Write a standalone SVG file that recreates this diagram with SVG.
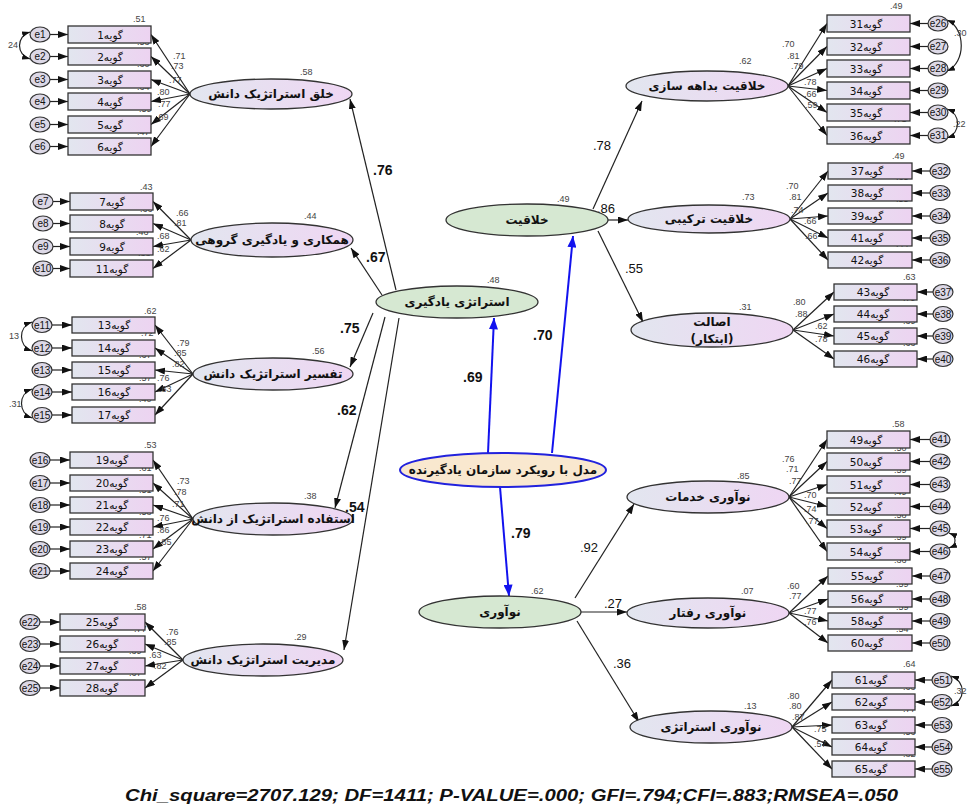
<svg xmlns="http://www.w3.org/2000/svg" width="969" height="806" viewBox="0 0 969 806">
<defs>
<linearGradient id="gb" x1="0" y1="0" x2="1" y2="0"><stop offset="0" stop-color="#e2e6ef"/><stop offset="1" stop-color="#edd3f1"/></linearGradient>
<linearGradient id="gl" x1="0" y1="0" x2="1" y2="0"><stop offset="0" stop-color="#e2e6ef"/><stop offset="1" stop-color="#efd6f3"/></linearGradient>
<marker id="ah" viewBox="0 0 10 7" refX="10" refY="3.5" markerWidth="10" markerHeight="7" markerUnits="userSpaceOnUse" orient="auto-start-reverse"><path d="M0,0 L10,3.5 L0,7 z" fill="#111"/></marker>
<marker id="sh" viewBox="0 0 10 7" refX="10" refY="3.5" markerWidth="8" markerHeight="6" markerUnits="userSpaceOnUse" orient="auto-start-reverse"><path d="M0,0 L10,3.5 L0,7 z" fill="#111"/></marker>
<marker id="bh" viewBox="0 0 10 8" refX="10" refY="4" markerWidth="12" markerHeight="9" markerUnits="userSpaceOnUse" orient="auto"><path d="M0,0 L10,4 L0,8 z" fill="#1212ee"/></marker>
</defs>
<style>
.box{fill:url(#gb);stroke:#333;stroke-width:1.3}
.lat{fill:url(#gl);stroke:#333;stroke-width:1.3}
.grn{fill:#d6e8d2;stroke:#333;stroke-width:1.3}
.mod{fill:#f9e8cf;stroke:#2222dd;stroke-width:2}
.err{fill:#dcd8e6;stroke:#333;stroke-width:1.2}
.ln{stroke:#222;stroke-width:1.2;fill:none;marker-end:url(#ah)}
.cv{stroke:#222;stroke-width:1.2;fill:none;marker-end:url(#sh);marker-start:url(#sh)}
.bl{stroke:#1212ee;stroke-width:2;fill:none;marker-end:url(#bh)}
.fa{font-family:"DejaVu Sans",sans-serif;fill:#111;text-anchor:middle}
.bt{font-size:10.5px}
.lt{font-size:12px;font-weight:bold}
.et{font-family:"Liberation Sans",Arial,sans-serif;font-size:10px;fill:#111;text-anchor:middle}
.n{font-family:"Liberation Sans",Arial,sans-serif;font-size:9px;fill:#444}
.sp{font-family:"Liberation Sans",Arial,sans-serif;font-size:13px;fill:#111}
.sb{font-family:"Liberation Sans",Arial,sans-serif;font-size:14px;font-weight:bold;fill:#111}
</style>
<rect width="969" height="806" fill="#fff"/>

<g id="connectors">
<line class="ln" x1="190" y1="94" x2="151" y2="34.5"/><line class="ln" x1="190" y1="94" x2="151" y2="56.5"/><line class="ln" x1="190" y1="94" x2="151" y2="79.5"/><line class="ln" x1="190" y1="94" x2="151" y2="101.5"/><line class="ln" x1="190" y1="94" x2="151" y2="124.5"/><line class="ln" x1="190" y1="94" x2="151" y2="146.5"/>
<line class="ln" x1="50" y1="34.5" x2="68" y2="34.5"/><line class="ln" x1="50" y1="56.5" x2="68" y2="56.5"/><line class="ln" x1="50" y1="79.5" x2="68" y2="79.5"/><line class="ln" x1="50" y1="101.5" x2="68" y2="101.5"/><line class="ln" x1="50" y1="124.5" x2="68" y2="124.5"/><line class="ln" x1="50" y1="146.5" x2="68" y2="146.5"/>
<path class="cv" d="M30,32 C16,36 16,55 30,59"/>
<line class="ln" x1="191" y1="240" x2="153" y2="201.5"/><line class="ln" x1="191" y1="240" x2="153" y2="223.5"/><line class="ln" x1="191" y1="240" x2="153" y2="246.5"/><line class="ln" x1="191" y1="240" x2="153" y2="268.5"/>
<line class="ln" x1="53" y1="201.5" x2="70" y2="201.5"/><line class="ln" x1="53" y1="223.5" x2="70" y2="223.5"/><line class="ln" x1="53" y1="246.5" x2="70" y2="246.5"/><line class="ln" x1="53" y1="268.5" x2="70" y2="268.5"/>
<line class="ln" x1="193" y1="374" x2="155" y2="325"/><line class="ln" x1="193" y1="374" x2="155" y2="348"/><line class="ln" x1="193" y1="374" x2="155" y2="370"/><line class="ln" x1="193" y1="374" x2="155" y2="392"/><line class="ln" x1="193" y1="374" x2="155" y2="415"/>
<line class="ln" x1="52" y1="325" x2="72" y2="325"/><line class="ln" x1="52" y1="348" x2="72" y2="348"/><line class="ln" x1="52" y1="370" x2="72" y2="370"/><line class="ln" x1="52" y1="392" x2="72" y2="392"/><line class="ln" x1="52" y1="415" x2="72" y2="415"/>
<path class="cv" d="M32,322 C18,327 18,346 32,351"/>
<path class="cv" d="M32,389 C18,394 18,413 32,418"/>
<line class="ln" x1="193" y1="519" x2="153" y2="460"/><line class="ln" x1="193" y1="519" x2="153" y2="483"/><line class="ln" x1="193" y1="519" x2="153" y2="505"/><line class="ln" x1="193" y1="519" x2="153" y2="527"/><line class="ln" x1="193" y1="519" x2="153" y2="549"/><line class="ln" x1="193" y1="519" x2="153" y2="571"/>
<line class="ln" x1="50" y1="460" x2="70" y2="460"/><line class="ln" x1="50" y1="483" x2="70" y2="483"/><line class="ln" x1="50" y1="505" x2="70" y2="505"/><line class="ln" x1="50" y1="527" x2="70" y2="527"/><line class="ln" x1="50" y1="549" x2="70" y2="549"/><line class="ln" x1="50" y1="571" x2="70" y2="571"/>
<line class="ln" x1="183" y1="660" x2="145" y2="622"/><line class="ln" x1="183" y1="660" x2="145" y2="644"/><line class="ln" x1="183" y1="660" x2="145" y2="666"/><line class="ln" x1="183" y1="660" x2="145" y2="688"/>
<line class="ln" x1="40" y1="622" x2="60" y2="622"/><line class="ln" x1="40" y1="644" x2="60" y2="644"/><line class="ln" x1="40" y1="666" x2="60" y2="666"/><line class="ln" x1="40" y1="688" x2="60" y2="688"/>
<line class="ln" x1="788" y1="86" x2="827" y2="23.5"/><line class="ln" x1="788" y1="86" x2="827" y2="46.5"/><line class="ln" x1="788" y1="86" x2="827" y2="68.5"/><line class="ln" x1="788" y1="86" x2="827" y2="90.5"/><line class="ln" x1="788" y1="86" x2="827" y2="112.5"/><line class="ln" x1="788" y1="86" x2="827" y2="135.5"/>
<line class="ln" x1="928" y1="23.5" x2="910" y2="23.5"/><line class="ln" x1="928" y1="46.5" x2="910" y2="46.5"/><line class="ln" x1="928" y1="68.5" x2="910" y2="68.5"/><line class="ln" x1="928" y1="90.5" x2="910" y2="90.5"/><line class="ln" x1="928" y1="112.5" x2="910" y2="112.5"/><line class="ln" x1="928" y1="135.5" x2="910" y2="135.5"/>
<path class="cv" d="M947,20 C966,28 966,63 947,71"/>
<path class="cv" d="M947,109 C961,114 961,133 947,138"/>
<line class="ln" x1="790" y1="219" x2="828" y2="171"/><line class="ln" x1="790" y1="219" x2="828" y2="193"/><line class="ln" x1="790" y1="219" x2="828" y2="216"/><line class="ln" x1="790" y1="219" x2="828" y2="238"/><line class="ln" x1="790" y1="219" x2="828" y2="260"/>
<line class="ln" x1="930" y1="171" x2="912" y2="171"/><line class="ln" x1="930" y1="193" x2="912" y2="193"/><line class="ln" x1="930" y1="216" x2="912" y2="216"/><line class="ln" x1="930" y1="238" x2="912" y2="238"/><line class="ln" x1="930" y1="260" x2="912" y2="260"/>
<line class="ln" x1="793" y1="330" x2="834" y2="292"/><line class="ln" x1="793" y1="330" x2="834" y2="314"/><line class="ln" x1="793" y1="330" x2="834" y2="336"/><line class="ln" x1="793" y1="330" x2="834" y2="359"/>
<line class="ln" x1="933" y1="292" x2="917" y2="292"/><line class="ln" x1="933" y1="314" x2="917" y2="314"/><line class="ln" x1="933" y1="336" x2="917" y2="336"/><line class="ln" x1="933" y1="359" x2="917" y2="359"/>
<line class="ln" x1="789" y1="497" x2="827" y2="439.5"/><line class="ln" x1="789" y1="497" x2="827" y2="461.5"/><line class="ln" x1="789" y1="497" x2="827" y2="484.5"/><line class="ln" x1="789" y1="497" x2="827" y2="506.5"/><line class="ln" x1="789" y1="497" x2="827" y2="528.5"/><line class="ln" x1="789" y1="497" x2="827" y2="551.5"/>
<line class="ln" x1="930" y1="439.5" x2="910" y2="439.5"/><line class="ln" x1="930" y1="461.5" x2="910" y2="461.5"/><line class="ln" x1="930" y1="484.5" x2="910" y2="484.5"/><line class="ln" x1="930" y1="506.5" x2="910" y2="506.5"/><line class="ln" x1="930" y1="528.5" x2="910" y2="528.5"/><line class="ln" x1="930" y1="551.5" x2="910" y2="551.5"/>
<path class="cv" d="M949,533 C957,536 957,545 949,548"/>
<line class="ln" x1="789" y1="613" x2="828" y2="576"/><line class="ln" x1="789" y1="613" x2="828" y2="599"/><line class="ln" x1="789" y1="613" x2="828" y2="621"/><line class="ln" x1="789" y1="613" x2="828" y2="643"/>
<line class="ln" x1="930" y1="576" x2="912" y2="576"/><line class="ln" x1="930" y1="599" x2="912" y2="599"/><line class="ln" x1="930" y1="621" x2="912" y2="621"/><line class="ln" x1="930" y1="643" x2="912" y2="643"/>
<line class="ln" x1="792" y1="727" x2="832" y2="680"/><line class="ln" x1="792" y1="727" x2="832" y2="702"/><line class="ln" x1="792" y1="727" x2="832" y2="725"/><line class="ln" x1="792" y1="727" x2="832" y2="747"/><line class="ln" x1="792" y1="727" x2="832" y2="769"/>
<line class="ln" x1="932" y1="680" x2="915" y2="680"/><line class="ln" x1="932" y1="702" x2="915" y2="702"/><line class="ln" x1="932" y1="725" x2="915" y2="725"/><line class="ln" x1="932" y1="747" x2="915" y2="747"/><line class="ln" x1="932" y1="769" x2="915" y2="769"/>
<path class="cv" d="M951,676 C966,681 966,701 951,706"/>
<line class="ln" x1="396" y1="290" x2="350" y2="99"/>
<line class="ln" x1="382" y1="295" x2="351" y2="248"/>
<line class="ln" x1="373" y1="313" x2="350" y2="367"/>
<line class="ln" x1="385" y1="317" x2="335" y2="508"/>
<line class="ln" x1="399" y1="318" x2="344" y2="650"/>
<line class="ln" x1="593" y1="209" x2="642" y2="101"/>
<line class="ln" x1="608" y1="220" x2="628" y2="220"/>
<line class="ln" x1="598" y1="231" x2="643" y2="322"/>
<line class="ln" x1="575" y1="598" x2="634" y2="504"/>
<line class="ln" x1="581" y1="612" x2="627" y2="612"/>
<line class="ln" x1="577" y1="621" x2="639" y2="722"/>
<line class="bl" x1="488" y1="453" x2="494" y2="318"/>
<line class="bl" x1="552" y1="453" x2="573" y2="236"/>
<line class="bl" x1="500" y1="487" x2="509" y2="596"/>
</g>

<g id="path-labels">
<text class="sb" x="373" y="175">.76</text>
<text class="sb" x="366" y="262">.67</text>
<text class="sb" x="340" y="333">.75</text>
<text class="sb" x="337" y="415">.62</text>
<text class="sb" x="345" y="512">.54</text>
<text class="sb" x="463" y="382">.69</text>
<text class="sb" x="533" y="340">.70</text>
<text class="sb" x="511" y="538">.79</text>
<text class="sp" x="593" y="150">.78</text>
<text class="sp" x="597" y="213">.86</text>
<text class="sp" x="625" y="273">.55</text>
<text class="sp" x="580" y="552">.92</text>
<text class="sp" x="604" y="608">.27</text>
<text class="sp" x="613" y="668">.36</text>
</g>

<g id="loading-labels">
<text class="n" x="133" y="22">.51</text><text class="n" x="137" y="45">.53</text><text class="n" x="137" y="67">.60</text><text class="n" x="137" y="90">.64</text><text class="n" x="139" y="112">.59</text><text class="n" x="137" y="135">.47</text>
<text class="n" x="173" y="59">.71</text><text class="n" x="171" y="69">.73</text><text class="n" x="169" y="83">.77</text><text class="n" x="157" y="95">.80</text><text class="n" x="158" y="107">.77</text><text class="n" x="156" y="120">.69</text>
<text class="n" x="140" y="190">.43</text><text class="n" x="140" y="212">.66</text><text class="n" x="136" y="235">.46</text><text class="n" x="138" y="256">.38</text>
<text class="n" x="176" y="216">.66</text><text class="n" x="174" y="226">.81</text><text class="n" x="157" y="239">.68</text><text class="n" x="157" y="252">.62</text>
<text class="n" x="144" y="314">.62</text><text class="n" x="141" y="336">.72</text><text class="n" x="139" y="358">.67</text><text class="n" x="139" y="381">.57</text><text class="n" x="139" y="402">.40</text>
<text class="n" x="177" y="346">.79</text><text class="n" x="174" y="356">.85</text><text class="n" x="172" y="367">.82</text><text class="n" x="157" y="381">.76</text><text class="n" x="159" y="392">.63</text>
<text class="n" x="144" y="448">.53</text><text class="n" x="139" y="471">.61</text><text class="n" x="139" y="493">.51</text><text class="n" x="139" y="515">.58</text><text class="n" x="139" y="538">.71</text><text class="n" x="139" y="560">.57</text>
<text class="n" x="177" y="484">.73</text><text class="n" x="174" y="495">.78</text><text class="n" x="172" y="507">.71</text><text class="n" x="157" y="521">.76</text><text class="n" x="157" y="533">.86</text><text class="n" x="159" y="545">.85</text>
<text class="n" x="134" y="610">.58</text><text class="n" x="134" y="632">.77</text><text class="n" x="129" y="654">.39</text><text class="n" x="129" y="676">.67</text>
<text class="n" x="166" y="635">.76</text><text class="n" x="164" y="645">.85</text><text class="n" x="149" y="658">.63</text><text class="n" x="154" y="669">.82</text>
<text class="n" x="890" y="9">.49</text><text class="n" x="894" y="32">.65</text><text class="n" x="894" y="55">.62</text><text class="n" x="894" y="77">.61</text><text class="n" x="894" y="99">.44</text><text class="n" x="894" y="122">.71</text><text class="n" x="892" y="159">.49</text>
<text class="n" x="782" y="47">.70</text><text class="n" x="787" y="59">.81</text><text class="n" x="791" y="69">.79</text><text class="n" x="804" y="85">.78</text><text class="n" x="804" y="97">.66</text><text class="n" x="805" y="108">.59</text>
<text class="n" x="896" y="180">.65</text><text class="n" x="896" y="202">.55</text><text class="n" x="896" y="224">.44</text><text class="n" x="896" y="247">.44</text>
<text class="n" x="786" y="189">.70</text><text class="n" x="789" y="200">.81</text><text class="n" x="791" y="213">.74</text><text class="n" x="804" y="224">.66</text><text class="n" x="805" y="239">.66</text>
<text class="n" x="903" y="280">.63</text><text class="n" x="903" y="301">.79</text><text class="n" x="903" y="324">.39</text><text class="n" x="903" y="346">.63</text>
<text class="n" x="793" y="305">.80</text><text class="n" x="795" y="317">.88</text><text class="n" x="815" y="329">.62</text><text class="n" x="815" y="342">.78</text>
<text class="n" x="892" y="427">.58</text><text class="n" x="894" y="451">.50</text><text class="n" x="894" y="473">.59</text><text class="n" x="894" y="495">.49</text><text class="n" x="894" y="518">.58</text><text class="n" x="894" y="540">.59</text><text class="n" x="894" y="563">.36</text>
<text class="n" x="782" y="462">.76</text><text class="n" x="786" y="472">.71</text><text class="n" x="789" y="484">.77</text><text class="n" x="804" y="498">.70</text><text class="n" x="804" y="512">.74</text><text class="n" x="806" y="524">.77</text>
<text class="n" x="896" y="587">.59</text><text class="n" x="896" y="610">.59</text><text class="n" x="896" y="632">.54</text>
<text class="n" x="787" y="589">.60</text><text class="n" x="789" y="599">.77</text><text class="n" x="804" y="614">.77</text><text class="n" x="804" y="625">.76</text>
<text class="n" x="903" y="667">.64</text><text class="n" x="903" y="690">.63</text><text class="n" x="903" y="712">.77</text><text class="n" x="903" y="735">.56</text><text class="n" x="903" y="757">.82</text>
<text class="n" x="787" y="699">.80</text><text class="n" x="789" y="709">.80</text><text class="n" x="792" y="720">.87</text><text class="n" x="814" y="732">.75</text><text class="n" x="814" y="747">.57</text>
<text class="n" x="8" y="48">24</text><text class="n" x="9" y="339">13</text><text class="n" x="9" y="407">.31</text>
<text class="n" x="954" y="36">.30</text><text class="n" x="953" y="127">.22</text><text class="n" x="954" y="694">.32</text>
<text class="n" x="300" y="75">.58</text><text class="n" x="304" y="219">.44</text><text class="n" x="312" y="354">.56</text><text class="n" x="304" y="499">.38</text><text class="n" x="294" y="640">.29</text>
<text class="n" x="739" y="64">.62</text><text class="n" x="742" y="200">.73</text><text class="n" x="739" y="310">.31</text><text class="n" x="737" y="479">.85</text><text class="n" x="741" y="594">.07</text><text class="n" x="744" y="709">.13</text>
<text class="n" x="557" y="202">.49</text><text class="n" x="487" y="283">.48</text><text class="n" x="531" y="594">.62</text>
</g>

<g id="n-khallaqiyat"><ellipse class="grn" cx="527" cy="220" rx="81" ry="16"/><text class="fa lt" x="527" y="224" direction="rtl">خلاقیت</text></g>
<g id="n-strategy-learning"><ellipse class="grn" cx="457" cy="302" rx="81" ry="16"/><text class="fa lt" x="457" y="306" direction="rtl">استراتژی یادگیری</text></g>
<g id="n-model"><ellipse class="mod" cx="503" cy="470" rx="103" ry="17"/><text class="fa lt" x="503" y="474" direction="rtl">مدل با رویکرد سازمان یادگیرنده</text></g>
<g id="n-noavari"><ellipse class="grn" cx="500" cy="612" rx="81" ry="16"/><text class="fa lt" x="500" y="616" direction="rtl">نوآوری</text></g>

<g id="L1"><ellipse class="lat" cx="271" cy="94" rx="81" ry="15"/><text class="fa lt" x="271" y="98" direction="rtl">خلق استراتژیک دانش</text></g>
<g id="L2"><ellipse class="lat" cx="272" cy="240" rx="81" ry="17"/><text class="fa lt" x="272" y="244" direction="rtl">همکاری و یادگیری گروهی</text></g>
<g id="L3"><ellipse class="lat" cx="273" cy="374" rx="80" ry="16"/><text class="fa lt" x="273" y="378" direction="rtl">تفسیر استراتژیک دانش</text></g>
<g id="L4"><ellipse class="lat" cx="273" cy="519" rx="80" ry="16"/><text class="fa lt" x="273" y="523" direction="rtl">استفاده استراتژیک از دانش</text></g>
<g id="L5"><ellipse class="lat" cx="263" cy="660" rx="80" ry="16"/><text class="fa lt" x="263" y="664" direction="rtl">مدیریت استراتژیک دانش</text></g>

<g id="R1"><ellipse class="lat" cx="707" cy="86" rx="81" ry="15"/><text class="fa lt" x="707" y="90" direction="rtl">خلاقیت بداهه سازی</text></g>
<g id="R2"><ellipse class="lat" cx="709" cy="219" rx="81" ry="14"/><text class="fa lt" x="709" y="223" direction="rtl">خلاقیت ترکیبی</text></g>
<g id="R3"><ellipse class="lat" cx="712" cy="330" rx="81" ry="17"/><text class="fa lt" x="712" y="326" direction="rtl">اصالت</text><text class="fa lt" x="712" y="343" direction="rtl">(ابتکار)</text></g>
<g id="R4"><ellipse class="lat" cx="708" cy="497" rx="81" ry="16"/><text class="fa lt" x="708" y="501" direction="rtl">نوآوری خدمات</text></g>
<g id="R5"><ellipse class="lat" cx="708" cy="613" rx="81" ry="15"/><text class="fa lt" x="708" y="617" direction="rtl">نوآوری رفتار</text></g>
<g id="R6"><ellipse class="lat" cx="711" cy="727" rx="81" ry="16"/><text class="fa lt" x="711" y="731" direction="rtl">نوآوری استراتژی</text></g>

<g id="i1"><rect class="box" x="68" y="26" width="83" height="17"/><text class="fa bt" x="110" y="38.5" direction="rtl">گویه1</text></g>
<g id="i2"><rect class="box" x="68" y="48" width="83" height="17"/><text class="fa bt" x="110" y="60.5" direction="rtl">گویه2</text></g>
<g id="i3"><rect class="box" x="68" y="71" width="83" height="17"/><text class="fa bt" x="110" y="83.5" direction="rtl">گویه3</text></g>
<g id="i4"><rect class="box" x="68" y="93" width="83" height="17"/><text class="fa bt" x="110" y="105.5" direction="rtl">گویه4</text></g>
<g id="i5"><rect class="box" x="68" y="116" width="83" height="17"/><text class="fa bt" x="110" y="128.5" direction="rtl">گویه5</text></g>
<g id="i6"><rect class="box" x="68" y="138" width="83" height="17"/><text class="fa bt" x="110" y="150.5" direction="rtl">گویه6</text></g>
<g id="i7"><rect class="box" x="70" y="193" width="83" height="17"/><text class="fa bt" x="112" y="205.5" direction="rtl">گویه7</text></g>
<g id="i8"><rect class="box" x="70" y="215" width="83" height="17"/><text class="fa bt" x="112" y="227.5" direction="rtl">گویه8</text></g>
<g id="i9"><rect class="box" x="70" y="238" width="83" height="17"/><text class="fa bt" x="112" y="250.5" direction="rtl">گویه9</text></g>
<g id="i11"><rect class="box" x="70" y="260" width="83" height="17"/><text class="fa bt" x="112" y="272.5" direction="rtl">گویه11</text></g>
<g id="i13"><rect class="box" x="72" y="317" width="83" height="16"/><text class="fa bt" x="114" y="329" direction="rtl">گویه13</text></g>
<g id="i14"><rect class="box" x="72" y="340" width="83" height="16"/><text class="fa bt" x="114" y="352" direction="rtl">گویه14</text></g>
<g id="i15"><rect class="box" x="72" y="362" width="83" height="16"/><text class="fa bt" x="114" y="374" direction="rtl">گویه15</text></g>
<g id="i16"><rect class="box" x="72" y="384" width="83" height="16"/><text class="fa bt" x="114" y="396" direction="rtl">گویه16</text></g>
<g id="i17"><rect class="box" x="72" y="407" width="83" height="16"/><text class="fa bt" x="114" y="419" direction="rtl">گویه17</text></g>
<g id="i19"><rect class="box" x="70" y="452" width="83" height="16"/><text class="fa bt" x="112" y="464" direction="rtl">گویه19</text></g>
<g id="i20"><rect class="box" x="70" y="475" width="83" height="16"/><text class="fa bt" x="112" y="487" direction="rtl">گویه20</text></g>
<g id="i21"><rect class="box" x="70" y="497" width="83" height="16"/><text class="fa bt" x="112" y="509" direction="rtl">گویه21</text></g>
<g id="i22"><rect class="box" x="70" y="519" width="83" height="16"/><text class="fa bt" x="112" y="531" direction="rtl">گویه22</text></g>
<g id="i23"><rect class="box" x="70" y="541" width="83" height="16"/><text class="fa bt" x="112" y="553" direction="rtl">گویه23</text></g>
<g id="i24"><rect class="box" x="70" y="563" width="83" height="16"/><text class="fa bt" x="112" y="575" direction="rtl">گویه24</text></g>
<g id="i25"><rect class="box" x="60" y="614" width="85" height="16"/><text class="fa bt" x="102" y="626" direction="rtl">گویه25</text></g>
<g id="i26"><rect class="box" x="60" y="636" width="85" height="16"/><text class="fa bt" x="102" y="648" direction="rtl">گویه26</text></g>
<g id="i27"><rect class="box" x="60" y="658" width="85" height="16"/><text class="fa bt" x="102" y="670" direction="rtl">گویه27</text></g>
<g id="i28"><rect class="box" x="60" y="680" width="85" height="16"/><text class="fa bt" x="102" y="692" direction="rtl">گویه28</text></g>

<g id="i31"><rect class="box" x="827" y="15" width="83" height="17"/><text class="fa bt" x="866" y="27.5" direction="rtl">گویه31</text></g>
<g id="i32"><rect class="box" x="827" y="38" width="83" height="17"/><text class="fa bt" x="866" y="50.5" direction="rtl">گویه32</text></g>
<g id="i33"><rect class="box" x="827" y="60" width="83" height="17"/><text class="fa bt" x="866" y="72.5" direction="rtl">گویه33</text></g>
<g id="i34"><rect class="box" x="827" y="82" width="83" height="17"/><text class="fa bt" x="866" y="94.5" direction="rtl">گویه34</text></g>
<g id="i35"><rect class="box" x="827" y="104" width="83" height="17"/><text class="fa bt" x="866" y="116.5" direction="rtl">گویه35</text></g>
<g id="i36"><rect class="box" x="827" y="127" width="83" height="17"/><text class="fa bt" x="866" y="139.5" direction="rtl">گویه36</text></g>
<g id="i37"><rect class="box" x="828" y="163" width="84" height="16"/><text class="fa bt" x="867" y="175" direction="rtl">گویه37</text></g>
<g id="i38"><rect class="box" x="828" y="185" width="84" height="16"/><text class="fa bt" x="867" y="197" direction="rtl">گویه38</text></g>
<g id="i39"><rect class="box" x="828" y="208" width="84" height="16"/><text class="fa bt" x="867" y="220" direction="rtl">گویه39</text></g>
<g id="i41"><rect class="box" x="828" y="230" width="84" height="16"/><text class="fa bt" x="867" y="242" direction="rtl">گویه41</text></g>
<g id="i42"><rect class="box" x="828" y="252" width="84" height="16"/><text class="fa bt" x="867" y="264" direction="rtl">گویه42</text></g>
<g id="i43"><rect class="box" x="834" y="284" width="83" height="16"/><text class="fa bt" x="873" y="296" direction="rtl">گویه43</text></g>
<g id="i44"><rect class="box" x="834" y="306" width="83" height="16"/><text class="fa bt" x="873" y="318" direction="rtl">گویه44</text></g>
<g id="i45"><rect class="box" x="834" y="328" width="83" height="16"/><text class="fa bt" x="873" y="340" direction="rtl">گویه45</text></g>
<g id="i46"><rect class="box" x="834" y="351" width="83" height="16"/><text class="fa bt" x="873" y="363" direction="rtl">گویه46</text></g>
<g id="i49"><rect class="box" x="827" y="431" width="83" height="17"/><text class="fa bt" x="866" y="443.5" direction="rtl">گویه49</text></g>
<g id="i50"><rect class="box" x="827" y="453" width="83" height="17"/><text class="fa bt" x="866" y="465.5" direction="rtl">گویه50</text></g>
<g id="i51"><rect class="box" x="827" y="476" width="83" height="17"/><text class="fa bt" x="866" y="488.5" direction="rtl">گویه51</text></g>
<g id="i52"><rect class="box" x="827" y="498" width="83" height="17"/><text class="fa bt" x="866" y="510.5" direction="rtl">گویه52</text></g>
<g id="i53"><rect class="box" x="827" y="520" width="83" height="17"/><text class="fa bt" x="866" y="532.5" direction="rtl">گویه53</text></g>
<g id="i54"><rect class="box" x="827" y="543" width="83" height="17"/><text class="fa bt" x="866" y="555.5" direction="rtl">گویه54</text></g>
<g id="i55"><rect class="box" x="828" y="568" width="84" height="16"/><text class="fa bt" x="867" y="580" direction="rtl">گویه55</text></g>
<g id="i56"><rect class="box" x="828" y="591" width="84" height="16"/><text class="fa bt" x="867" y="603" direction="rtl">گویه56</text></g>
<g id="i58"><rect class="box" x="828" y="613" width="84" height="16"/><text class="fa bt" x="867" y="625" direction="rtl">گویه58</text></g>
<g id="i60"><rect class="box" x="828" y="635" width="84" height="16"/><text class="fa bt" x="867" y="647" direction="rtl">گویه60</text></g>
<g id="i61"><rect class="box" x="832" y="672" width="83" height="16"/><text class="fa bt" x="871" y="684" direction="rtl">گویه61</text></g>
<g id="i62"><rect class="box" x="832" y="694" width="83" height="16"/><text class="fa bt" x="871" y="706" direction="rtl">گویه62</text></g>
<g id="i63"><rect class="box" x="832" y="717" width="83" height="16"/><text class="fa bt" x="871" y="729" direction="rtl">گویه63</text></g>
<g id="i64"><rect class="box" x="832" y="739" width="83" height="16"/><text class="fa bt" x="871" y="751" direction="rtl">گویه64</text></g>
<g id="i65"><rect class="box" x="832" y="761" width="83" height="16"/><text class="fa bt" x="871" y="773" direction="rtl">گویه65</text></g>

<g id="e1"><ellipse class="err" cx="40" cy="34.5" rx="10" ry="7.5"/><text class="et" x="40" y="38">e1</text></g>
<g id="e2"><ellipse class="err" cx="40" cy="56.5" rx="10" ry="7.5"/><text class="et" x="40" y="60">e2</text></g>
<g id="e3"><ellipse class="err" cx="40" cy="79.5" rx="10" ry="7.5"/><text class="et" x="40" y="83">e3</text></g>
<g id="e4"><ellipse class="err" cx="40" cy="101.5" rx="10" ry="7.5"/><text class="et" x="40" y="105">e4</text></g>
<g id="e5"><ellipse class="err" cx="40" cy="124.5" rx="10" ry="7.5"/><text class="et" x="40" y="128">e5</text></g>
<g id="e6"><ellipse class="err" cx="40" cy="146.5" rx="10" ry="7.5"/><text class="et" x="40" y="150">e6</text></g>
<g id="e7"><ellipse class="err" cx="43" cy="201.5" rx="10" ry="7.5"/><text class="et" x="43" y="205">e7</text></g>
<g id="e8"><ellipse class="err" cx="43" cy="223.5" rx="10" ry="7.5"/><text class="et" x="43" y="227">e8</text></g>
<g id="e9"><ellipse class="err" cx="43" cy="246.5" rx="10" ry="7.5"/><text class="et" x="43" y="250">e9</text></g>
<g id="e10"><ellipse class="err" cx="43" cy="268.5" rx="10" ry="7.5"/><text class="et" x="43" y="272">e10</text></g>
<g id="e11"><ellipse class="err" cx="42" cy="325" rx="10" ry="7.5"/><text class="et" x="42" y="328.5">e11</text></g>
<g id="e12"><ellipse class="err" cx="42" cy="348" rx="10" ry="7.5"/><text class="et" x="42" y="351.5">e12</text></g>
<g id="e13"><ellipse class="err" cx="42" cy="370" rx="10" ry="7.5"/><text class="et" x="42" y="373.5">e13</text></g>
<g id="e14"><ellipse class="err" cx="42" cy="392" rx="10" ry="7.5"/><text class="et" x="42" y="395.5">e14</text></g>
<g id="e15"><ellipse class="err" cx="42" cy="415" rx="10" ry="7.5"/><text class="et" x="42" y="418.5">e15</text></g>
<g id="e16"><ellipse class="err" cx="40" cy="460" rx="10" ry="7.5"/><text class="et" x="40" y="463.5">e16</text></g>
<g id="e17"><ellipse class="err" cx="40" cy="483" rx="10" ry="7.5"/><text class="et" x="40" y="486.5">e17</text></g>
<g id="e18"><ellipse class="err" cx="40" cy="505" rx="10" ry="7.5"/><text class="et" x="40" y="508.5">e18</text></g>
<g id="e19"><ellipse class="err" cx="40" cy="527" rx="10" ry="7.5"/><text class="et" x="40" y="530.5">e19</text></g>
<g id="e20"><ellipse class="err" cx="40" cy="549" rx="10" ry="7.5"/><text class="et" x="40" y="552.5">e20</text></g>
<g id="e21"><ellipse class="err" cx="40" cy="571" rx="10" ry="7.5"/><text class="et" x="40" y="574.5">e21</text></g>
<g id="e22"><ellipse class="err" cx="30" cy="622" rx="10" ry="7.5"/><text class="et" x="30" y="625.5">e22</text></g>
<g id="e23"><ellipse class="err" cx="30" cy="644" rx="10" ry="7.5"/><text class="et" x="30" y="647.5">e23</text></g>
<g id="e24"><ellipse class="err" cx="30" cy="666" rx="10" ry="7.5"/><text class="et" x="30" y="669.5">e24</text></g>
<g id="e25"><ellipse class="err" cx="30" cy="688" rx="10" ry="7.5"/><text class="et" x="30" y="691.5">e25</text></g>

<g id="e26"><ellipse class="err" cx="938" cy="23.5" rx="10" ry="7.5"/><text class="et" x="938" y="27">e26</text></g>
<g id="e27"><ellipse class="err" cx="938" cy="46.5" rx="10" ry="7.5"/><text class="et" x="938" y="50">e27</text></g>
<g id="e28"><ellipse class="err" cx="938" cy="68.5" rx="10" ry="7.5"/><text class="et" x="938" y="72">e28</text></g>
<g id="e29"><ellipse class="err" cx="938" cy="90.5" rx="10" ry="7.5"/><text class="et" x="938" y="94">e29</text></g>
<g id="e30"><ellipse class="err" cx="938" cy="112.5" rx="10" ry="7.5"/><text class="et" x="938" y="116">e30</text></g>
<g id="e31"><ellipse class="err" cx="938" cy="135.5" rx="10" ry="7.5"/><text class="et" x="938" y="139">e31</text></g>
<g id="e32"><ellipse class="err" cx="940" cy="171" rx="10" ry="7.5"/><text class="et" x="940" y="174.5">e32</text></g>
<g id="e33"><ellipse class="err" cx="940" cy="193" rx="10" ry="7.5"/><text class="et" x="940" y="196.5">e33</text></g>
<g id="e34"><ellipse class="err" cx="940" cy="216" rx="10" ry="7.5"/><text class="et" x="940" y="219.5">e34</text></g>
<g id="e35"><ellipse class="err" cx="940" cy="238" rx="10" ry="7.5"/><text class="et" x="940" y="241.5">e35</text></g>
<g id="e36"><ellipse class="err" cx="940" cy="260" rx="10" ry="7.5"/><text class="et" x="940" y="263.5">e36</text></g>
<g id="e37"><ellipse class="err" cx="943" cy="292" rx="10" ry="7.5"/><text class="et" x="943" y="295.5">e37</text></g>
<g id="e38"><ellipse class="err" cx="943" cy="314" rx="10" ry="7.5"/><text class="et" x="943" y="317.5">e38</text></g>
<g id="e39"><ellipse class="err" cx="943" cy="336" rx="10" ry="7.5"/><text class="et" x="943" y="339.5">e39</text></g>
<g id="e40"><ellipse class="err" cx="943" cy="359" rx="10" ry="7.5"/><text class="et" x="943" y="362.5">e40</text></g>
<g id="e41"><ellipse class="err" cx="940" cy="439.5" rx="10" ry="7.5"/><text class="et" x="940" y="443">e41</text></g>
<g id="e42"><ellipse class="err" cx="940" cy="461.5" rx="10" ry="7.5"/><text class="et" x="940" y="465">e42</text></g>
<g id="e43"><ellipse class="err" cx="940" cy="484.5" rx="10" ry="7.5"/><text class="et" x="940" y="488">e43</text></g>
<g id="e44"><ellipse class="err" cx="940" cy="506.5" rx="10" ry="7.5"/><text class="et" x="940" y="510">e44</text></g>
<g id="e45"><ellipse class="err" cx="940" cy="528.5" rx="10" ry="7.5"/><text class="et" x="940" y="532">e45</text></g>
<g id="e46"><ellipse class="err" cx="940" cy="551.5" rx="10" ry="7.5"/><text class="et" x="940" y="555">e46</text></g>
<g id="e47"><ellipse class="err" cx="940" cy="576" rx="10" ry="7.5"/><text class="et" x="940" y="579.5">e47</text></g>
<g id="e48"><ellipse class="err" cx="940" cy="599" rx="10" ry="7.5"/><text class="et" x="940" y="602.5">e48</text></g>
<g id="e49"><ellipse class="err" cx="940" cy="621" rx="10" ry="7.5"/><text class="et" x="940" y="624.5">e49</text></g>
<g id="e50"><ellipse class="err" cx="940" cy="643" rx="10" ry="7.5"/><text class="et" x="940" y="646.5">e50</text></g>
<g id="e51"><ellipse class="err" cx="942" cy="680" rx="10" ry="7.5"/><text class="et" x="942" y="683.5">e51</text></g>
<g id="e52"><ellipse class="err" cx="942" cy="702" rx="10" ry="7.5"/><text class="et" x="942" y="705.5">e52</text></g>
<g id="e53"><ellipse class="err" cx="942" cy="725" rx="10" ry="7.5"/><text class="et" x="942" y="728.5">e53</text></g>
<g id="e54"><ellipse class="err" cx="942" cy="747" rx="10" ry="7.5"/><text class="et" x="942" y="750.5">e54</text></g>
<g id="e55"><ellipse class="err" cx="942" cy="769" rx="10" ry="7.5"/><text class="et" x="942" y="772.5">e55</text></g>

<g id="fit"><text x="125" y="801" font-family="'Liberation Sans',Arial,sans-serif" font-size="16" font-weight="bold" font-style="italic" fill="#111" textLength="773" lengthAdjust="spacingAndGlyphs">Chi_square=2707.129; DF=1411; P-VALUE=.000; GFI=.794;CFI=.883;RMSEA=.050</text></g>
</svg>
